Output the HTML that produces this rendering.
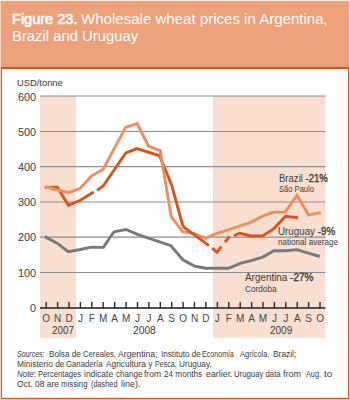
<!DOCTYPE html>
<html><head><meta charset="utf-8">
<style>
html,body{margin:0;padding:0;background:#fff;}
body{width:350px;height:400px;position:relative;overflow:hidden;font-family:"Liberation Sans",sans-serif;color:#3A3A3A;}
.b{position:absolute;}
.sb{-webkit-text-stroke:0.35px currentColor;}
.sb2{-webkit-text-stroke:0.6px currentColor;}
.t{position:absolute;white-space:nowrap;line-height:1;transform-origin:0 0;}
svg{position:absolute;left:0;top:0;}
</style></head><body>
<div class="b" style="left:0;top:0;width:350px;height:400px;background:#FCEBE1"></div>
<div class="b" style="left:0;top:1px;width:1px;height:399px;background:#F7D3C0"></div>
<div class="b" style="left:1px;top:1px;width:348px;height:398px;background:#fff"></div>
<div class="b" style="left:1px;top:1px;width:348px;height:66px;background:#EDA17B"></div>
<div class="b" style="left:1px;top:67px;width:348px;height:2px;background:#D9541F"></div>
<div class="b" style="left:1px;top:67px;width:1px;height:332px;background:#D9541F"></div>
<div class="b" style="left:348px;top:67px;width:1px;height:332px;background:#D9541F"></div>
<div class="b" style="left:2px;top:397px;width:346px;height:1px;background:#FBE3D8"></div>
<div class="b" style="left:1px;top:398px;width:348px;height:1px;background:#D9541F"></div>
<div class="b" style="left:0;top:399px;width:350px;height:1px;background:#F7D5C5"></div>
<svg width="350" height="400" viewBox="0 0 350 400">
<rect x="40" y="96" width="36" height="242" fill="#F9DFCF"/>
<rect x="213" y="96" width="112.5" height="242" fill="#F9DFCF"/>
<line x1="40" y1="96" x2="325.5" y2="96" stroke="#8E8E8E" stroke-width="1.05"/>
<line x1="40" y1="131.5" x2="325.5" y2="131.5" stroke="#8E8E8E" stroke-width="1.05"/>
<line x1="40" y1="166.6" x2="325.5" y2="166.6" stroke="#8E8E8E" stroke-width="1.05"/>
<line x1="40" y1="201.9" x2="325.5" y2="201.9" stroke="#8E8E8E" stroke-width="1.05"/>
<line x1="40" y1="237.1" x2="325.5" y2="237.1" stroke="#8E8E8E" stroke-width="1.05"/>
<line x1="40" y1="272.4" x2="325.5" y2="272.4" stroke="#8E8E8E" stroke-width="1.05"/>
<line x1="40" y1="308" x2="325.3" y2="308" stroke="#505050" stroke-width="2"/>
<line x1="46.2" y1="302" x2="46.2" y2="308" stroke="#2A2A2A" stroke-width="1.4"/>
<line x1="57.6" y1="302" x2="57.6" y2="308" stroke="#2A2A2A" stroke-width="1.4"/>
<line x1="69.0" y1="302" x2="69.0" y2="308" stroke="#2A2A2A" stroke-width="1.4"/>
<line x1="80.4" y1="302" x2="80.4" y2="308" stroke="#2A2A2A" stroke-width="1.4"/>
<line x1="91.8" y1="302" x2="91.8" y2="308" stroke="#2A2A2A" stroke-width="1.4"/>
<line x1="103.2" y1="302" x2="103.2" y2="308" stroke="#2A2A2A" stroke-width="1.4"/>
<line x1="114.7" y1="302" x2="114.7" y2="308" stroke="#2A2A2A" stroke-width="1.4"/>
<line x1="126.1" y1="302" x2="126.1" y2="308" stroke="#2A2A2A" stroke-width="1.4"/>
<line x1="137.5" y1="302" x2="137.5" y2="308" stroke="#2A2A2A" stroke-width="1.4"/>
<line x1="148.9" y1="302" x2="148.9" y2="308" stroke="#2A2A2A" stroke-width="1.4"/>
<line x1="160.3" y1="302" x2="160.3" y2="308" stroke="#2A2A2A" stroke-width="1.4"/>
<line x1="171.7" y1="302" x2="171.7" y2="308" stroke="#2A2A2A" stroke-width="1.4"/>
<line x1="183.1" y1="302" x2="183.1" y2="308" stroke="#2A2A2A" stroke-width="1.4"/>
<line x1="194.5" y1="302" x2="194.5" y2="308" stroke="#2A2A2A" stroke-width="1.4"/>
<line x1="205.9" y1="302" x2="205.9" y2="308" stroke="#2A2A2A" stroke-width="1.4"/>
<line x1="217.4" y1="302" x2="217.4" y2="308" stroke="#2A2A2A" stroke-width="1.4"/>
<line x1="228.8" y1="302" x2="228.8" y2="308" stroke="#2A2A2A" stroke-width="1.4"/>
<line x1="240.2" y1="302" x2="240.2" y2="308" stroke="#2A2A2A" stroke-width="1.4"/>
<line x1="251.6" y1="302" x2="251.6" y2="308" stroke="#2A2A2A" stroke-width="1.4"/>
<line x1="263.0" y1="302" x2="263.0" y2="308" stroke="#2A2A2A" stroke-width="1.4"/>
<line x1="274.4" y1="302" x2="274.4" y2="308" stroke="#2A2A2A" stroke-width="1.4"/>
<line x1="285.8" y1="302" x2="285.8" y2="308" stroke="#2A2A2A" stroke-width="1.4"/>
<line x1="297.2" y1="302" x2="297.2" y2="308" stroke="#2A2A2A" stroke-width="1.4"/>
<line x1="308.6" y1="302" x2="308.6" y2="308" stroke="#2A2A2A" stroke-width="1.4"/>
<line x1="320.0" y1="302" x2="320.0" y2="308" stroke="#2A2A2A" stroke-width="1.4"/>
<polyline points="44.8,236.6 57.1,243.1 68.3,251.7 80.3,249.5 91.4,247.1 103.4,247.4 114,231.8 126,229.5 138,234.6 170.9,245.7 182.9,259.8 194.9,266.3 206,268.3 228.3,268.3 241.1,263.1 251.4,260.6 262.6,257.1 274,250.7 285.4,250.7 296.9,249.6 319.7,256.5" fill="none" stroke="#77797D" stroke-width="2.9" stroke-linejoin="miter" stroke-linecap="butt"/>
<polyline points="44.8,187.4 57.3,187.1 68.5,205.4 80.3,200.3 93.8,192" fill="none" stroke="#D9531E" stroke-width="2.9" stroke-linejoin="miter" stroke-linecap="butt"/>
<polyline points="97,190.3 103,186.3 125.8,152.9 137,148.6 159.6,155.8 171.5,184.6 183,226.5" fill="none" stroke="#D9531E" stroke-width="2.9" stroke-linejoin="miter" stroke-linecap="butt"/>
<polyline points="44.8,186.6 57.3,190 68.8,192.6 80.3,188.3 91.7,175.8 103.2,169.2 125.6,127.4 137.1,123.5 148.5,146 160.2,150.6 171.2,216.6 182.5,231.6 193.6,233.4 206,238.4 215.4,233.8 228.3,229.9 239.4,226 250.8,222.3 262.5,216.1 273.6,212.1 285.3,212 296.9,195.5 308.6,215 320.8,212.6" fill="none" stroke="#EE8D60" stroke-width="2.9" stroke-linejoin="miter" stroke-linecap="butt"/>
<polyline points="183,226.5 208.9,245.6" fill="none" stroke="#D9531E" stroke-width="2.9" stroke-linejoin="miter" stroke-linecap="butt"/>
<polyline points="212.1,248.2 216.9,252.1 221.4,246.6" fill="none" stroke="#D9531E" stroke-width="2.9" stroke-linejoin="miter" stroke-linecap="butt"/>
<polyline points="225,242.1 229.5,236.6" fill="none" stroke="#D9531E" stroke-width="2.9" stroke-linejoin="miter" stroke-linecap="butt"/>
<polyline points="233.8,235.8 239.6,233.2 251.2,236 262.4,236 273.2,229.2 285.6,216.2 298,217.8" fill="none" stroke="#D9531E" stroke-width="2.9" stroke-linejoin="miter" stroke-linecap="butt"/>
</svg>
<div class="t" style="left:12.22px;top:11.60px;font-size:14px;transform:scaleX(1.0384);color:#fff;"><span class=sb2>Figure 23.</span></div>
<div class="t" style="left:81.23px;top:11.60px;font-size:14px;transform:scaleX(1.0750);color:#fff;">Wholesale wheat prices in Argentina,</div>
<div class="t" style="left:11.58px;top:28.60px;font-size:14px;transform:scaleX(1.0599);color:#fff;">Brazil and Uruguay</div>
<div class="t" style="left:17.27px;top:78.34px;font-size:9.6px;transform:scaleX(0.9749);">USD/tonne</div>
<div class="t" style="left:278.61px;top:173.56px;font-size:10.4px;transform:scaleX(0.9187);">Brazil <span class=sb>-21%</span></div>
<div class="t" style="left:278.88px;top:184.85px;font-size:9px;transform:scaleX(0.8417);">São Paulo</div>
<div class="t" style="left:278.09px;top:227.36px;font-size:10.4px;transform:scaleX(0.9423);">Uruguay <span class=sb>-9%</span></div>
<div class="t" style="left:278.25px;top:238.35px;font-size:9px;transform:scaleX(0.9004);">national average</div>
<div class="t" style="left:245.00px;top:273.36px;font-size:10.4px;transform:scaleX(0.9524);">Argentina <span class=sb>-27%</span></div>
<div class="t" style="left:244.54px;top:284.75px;font-size:9px;transform:scaleX(0.9147);">Cordoba</div>
<div class="t" style="left:51.52px;top:325.85px;font-size:10.3px;transform:scaleX(0.9591);">2007</div>
<div class="t" style="left:132.50px;top:325.85px;font-size:10.3px;transform:scaleX(0.9955);">2008</div>
<div class="t" style="left:270.02px;top:325.85px;font-size:10.3px;transform:scaleX(0.9682);">2009</div>
<div class="t" style="left:17.87px;top:92.84px;font-size:10.3px;transform:scaleX(1.0585);">600</div>
<div class="t" style="left:17.87px;top:127.75px;font-size:10.3px;transform:scaleX(1.0585);">500</div>
<div class="t" style="left:17.87px;top:162.84px;font-size:10.3px;transform:scaleX(1.0585);">400</div>
<div class="t" style="left:17.87px;top:198.15px;font-size:10.3px;transform:scaleX(1.0585);">300</div>
<div class="t" style="left:17.87px;top:233.34px;font-size:10.3px;transform:scaleX(1.0585);">200</div>
<div class="t" style="left:17.87px;top:268.64px;font-size:10.3px;transform:scaleX(1.0585);">100</div>
<div class="t" style="left:30.04px;top:304.25px;font-size:10.3px;transform:scaleX(1.0585);">0</div>
<div class="t" style="left:16.90px;top:350.27px;font-size:8.5px;transform:scaleX(0.8182);"><i>Sources:</i></div>
<div class="t" style="left:48.58px;top:350.27px;font-size:8.5px;transform:scaleX(0.9625);">Bolsa de</div>
<div class="t" style="left:82.55px;top:350.27px;font-size:8.5px;transform:scaleX(0.9057);">Cereales,</div>
<div class="t" style="left:118.30px;top:350.27px;font-size:8.5px;transform:scaleX(1.0211);">Argentina;</div>
<div class="t" style="left:160.68px;top:350.27px;font-size:8.5px;transform:scaleX(0.9580);">Instituto de</div>
<div class="t" style="left:201.67px;top:350.27px;font-size:8.5px;transform:scaleX(0.8373);">Economía</div>
<div class="t" style="left:240.30px;top:350.27px;font-size:8.5px;transform:scaleX(0.8794);">Agrícola,</div>
<div class="t" style="left:273.26px;top:350.27px;font-size:8.5px;transform:scaleX(0.9864);">Brazil;</div>
<div class="t" style="left:16.86px;top:360.17px;font-size:8.5px;transform:scaleX(0.9851);">Ministerio de</div>
<div class="t" style="left:65.94px;top:360.17px;font-size:8.5px;transform:scaleX(0.9107);">Ganadería</div>
<div class="t" style="left:106.00px;top:360.17px;font-size:8.5px;transform:scaleX(0.9820);">Agricultura y</div>
<div class="t" style="left:155.27px;top:360.17px;font-size:8.5px;transform:scaleX(0.8367);">Pesca,</div>
<div class="t" style="left:179.28px;top:360.17px;font-size:8.5px;transform:scaleX(0.9643);">Uruguay.</div>
<div class="t" style="left:17.37px;top:370.17px;font-size:8.5px;transform:scaleX(0.9351);"><i>Note</i>:</div>
<div class="t" style="left:38.32px;top:370.17px;font-size:8.5px;transform:scaleX(0.9005);">Percentages</div>
<div class="t" style="left:84.10px;top:370.17px;font-size:8.5px;transform:scaleX(0.9930);">indicate</div>
<div class="t" style="left:116.06px;top:370.17px;font-size:8.5px;transform:scaleX(0.9468);">change</div>
<div class="t" style="left:144.45px;top:370.17px;font-size:8.5px;transform:scaleX(1.0031);">from</div>
<div class="t" style="left:164.02px;top:370.17px;font-size:8.5px;transform:scaleX(0.9615);">24 months</div>
<div class="t" style="left:206.04px;top:370.17px;font-size:8.5px;transform:scaleX(1.0408);">earlier.</div>
<div class="t" style="left:233.51px;top:370.17px;font-size:8.5px;transform:scaleX(0.9134);">Uruguay data</div>
<div class="t" style="left:283.34px;top:370.17px;font-size:8.5px;transform:scaleX(1.0523);">from</div>
<div class="t" style="left:305.50px;top:370.17px;font-size:8.5px;transform:scaleX(0.8597);">Aug.</div>
<div class="t" style="left:324.41px;top:370.17px;font-size:8.5px;transform:scaleX(1.1500);">to</div>
<div class="t" style="left:17.10px;top:380.07px;font-size:8.5px;transform:scaleX(1.0000);">Oct. 08</div>
<div class="t" style="left:46.70px;top:380.07px;font-size:8.5px;transform:scaleX(1.0000);">are</div>
<div class="t" style="left:61.14px;top:380.07px;font-size:8.5px;transform:scaleX(0.9189);">missing</div>
<div class="t" style="left:90.97px;top:380.07px;font-size:8.5px;transform:scaleX(0.8639);">(dashed</div>
<div class="t" style="left:120.87px;top:380.07px;font-size:8.5px;transform:scaleX(1.0551);">line).</div>
<div class="t" style="left:36.20px;width:20px;text-align:center;top:313.74px;font-size:10px;color:#474747;">O</div>
<div class="t" style="left:47.61px;width:20px;text-align:center;top:313.74px;font-size:10px;color:#474747;">N</div>
<div class="t" style="left:59.02px;width:20px;text-align:center;top:313.74px;font-size:10px;color:#474747;">D</div>
<div class="t" style="left:70.43px;width:20px;text-align:center;top:313.74px;font-size:10px;color:#474747;">J</div>
<div class="t" style="left:81.84px;width:20px;text-align:center;top:313.74px;font-size:10px;color:#474747;">F</div>
<div class="t" style="left:93.25px;width:20px;text-align:center;top:313.74px;font-size:10px;color:#474747;">M</div>
<div class="t" style="left:104.66px;width:20px;text-align:center;top:313.74px;font-size:10px;color:#474747;">A</div>
<div class="t" style="left:116.07px;width:20px;text-align:center;top:313.74px;font-size:10px;color:#474747;">M</div>
<div class="t" style="left:127.48px;width:20px;text-align:center;top:313.74px;font-size:10px;color:#474747;">J</div>
<div class="t" style="left:138.89px;width:20px;text-align:center;top:313.74px;font-size:10px;color:#474747;">J</div>
<div class="t" style="left:150.30px;width:20px;text-align:center;top:313.74px;font-size:10px;color:#474747;">A</div>
<div class="t" style="left:161.71px;width:20px;text-align:center;top:313.74px;font-size:10px;color:#474747;">S</div>
<div class="t" style="left:173.12px;width:20px;text-align:center;top:313.74px;font-size:10px;color:#474747;">O</div>
<div class="t" style="left:184.53px;width:20px;text-align:center;top:313.74px;font-size:10px;color:#474747;">N</div>
<div class="t" style="left:195.94px;width:20px;text-align:center;top:313.74px;font-size:10px;color:#474747;">D</div>
<div class="t" style="left:207.35px;width:20px;text-align:center;top:313.74px;font-size:10px;color:#474747;">J</div>
<div class="t" style="left:218.76px;width:20px;text-align:center;top:313.74px;font-size:10px;color:#474747;">F</div>
<div class="t" style="left:230.17px;width:20px;text-align:center;top:313.74px;font-size:10px;color:#474747;">M</div>
<div class="t" style="left:241.58px;width:20px;text-align:center;top:313.74px;font-size:10px;color:#474747;">A</div>
<div class="t" style="left:252.99px;width:20px;text-align:center;top:313.74px;font-size:10px;color:#474747;">M</div>
<div class="t" style="left:264.40px;width:20px;text-align:center;top:313.74px;font-size:10px;color:#474747;">J</div>
<div class="t" style="left:275.81px;width:20px;text-align:center;top:313.74px;font-size:10px;color:#474747;">J</div>
<div class="t" style="left:287.22px;width:20px;text-align:center;top:313.74px;font-size:10px;color:#474747;">A</div>
<div class="t" style="left:298.63px;width:20px;text-align:center;top:313.74px;font-size:10px;color:#474747;">S</div>
<div class="t" style="left:310.04px;width:20px;text-align:center;top:313.74px;font-size:10px;color:#474747;">O</div>
</body></html>
